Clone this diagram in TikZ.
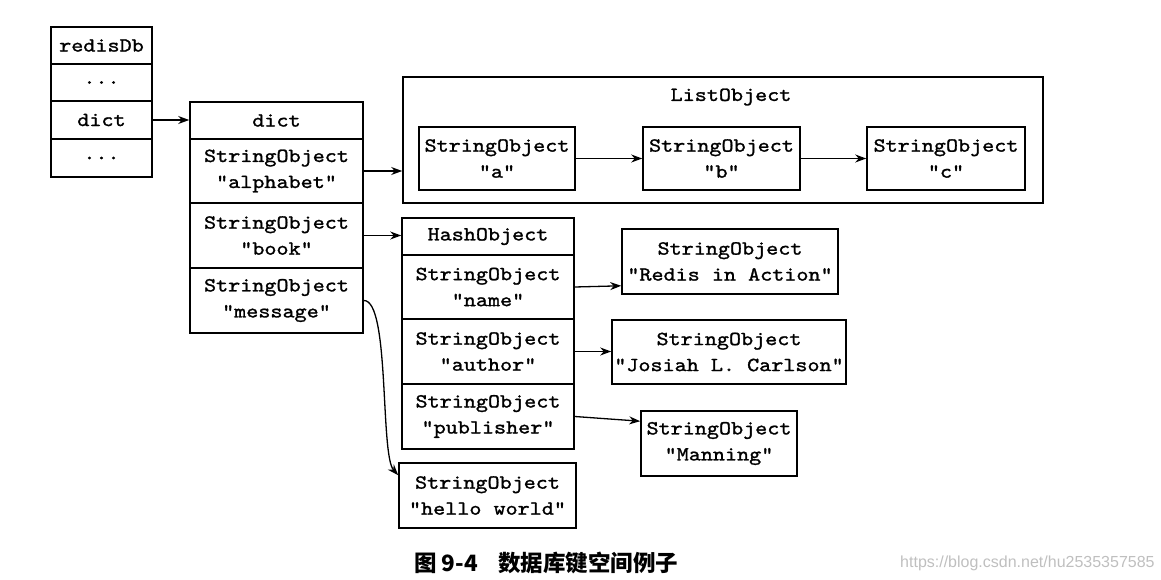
\documentclass[tikz,border=0pt]{standalone}
\usepackage{fontspec}
\newfontfamily\cjk{Noto Sans CJK SC}
\newfontfamily\wmfont{Liberation Sans}
\newfontfamily\monofnt{lmmono10-regular}[Extension=.otf,FakeBold=1.3,FakeStretch=1.15]
\usetikzlibrary{arrows.meta,calc}
\tikzset{
  cell/.style={draw, line width=1.6pt, inner sep=0pt, align=center,
    font={\monofnt\fontsize{20}{26}\selectfont}},
  frame/.style={draw, line width=1.6pt, inner sep=0pt},
  link/.style={line width=1.3pt, -{Stealth[length=11pt,width=8pt]}},
}
\begin{document}
\begin{tikzpicture}[x=1pt,y=-1pt]
\useasboundingbox (0,0) rectangle (1161,580);
% redisDb
\node[cell, minimum width=101pt, minimum height=37pt] (r0) at (101.5,45.5) {redisDb};
\node[cell, minimum width=101pt, minimum height=37pt] (r1) at (101.5,82.5) {...};
\node[cell, minimum width=101pt, minimum height=38pt] (r2) at (101.5,120) {dict};
\node[cell, minimum width=101pt, minimum height=38pt] (r3) at (101.5,158) {...};
% dict
\node[cell, minimum width=173pt, minimum height=37pt] (d0) at (276.5,120.5) {dict};
\node[cell, minimum width=173pt, minimum height=64pt] (d1) at (276.5,171) {StringObject\\"alphabet"};
\node[cell, minimum width=173pt, minimum height=65pt] (d2) at (276.5,235.5) {StringObject\\"book"};
\node[cell, minimum width=173pt, minimum height=65pt] (d3) at (276.5,300.5) {StringObject\\"message"};
% ListObject
\node[frame, minimum width=640pt, minimum height=126pt] (list) at (723,140) {};
\node[cell, draw=none] (ltitle) at (731,97) {ListObject};
\node[cell, minimum width=156pt, minimum height=63pt] (la) at (497,158.5) {StringObject\\"a"};
\node[cell, minimum width=157pt, minimum height=63pt] (lb) at (721.5,158.5) {StringObject\\"b"};
\node[cell, minimum width=158pt, minimum height=63pt] (lc) at (946,158.5) {StringObject\\"c"};
% HashObject
\node[cell, minimum width=172pt, minimum height=37pt] (h0) at (488,236.5) {HashObject};
\node[cell, minimum width=172pt, minimum height=64pt] (h1) at (488,287) {StringObject\\"name"};
\node[cell, minimum width=172pt, minimum height=65pt] (h2) at (488,351.5) {StringObject\\"author"};
\node[cell, minimum width=172pt, minimum height=65pt] (h3) at (488,416.5) {StringObject\\"publisher"};
% values
\node[cell, minimum width=216pt, minimum height=65pt] (s1) at (730,261.5) {StringObject\\"Redis in Action"};
\node[cell, minimum width=234pt, minimum height=64pt] (s2) at (729,352) {StringObject\\"Josiah L. Carlson"};
\node[cell, minimum width=156pt, minimum height=65pt] (s3) at (719,443.5) {StringObject\\"Manning"};
\node[cell, minimum width=177pt, minimum height=65pt] (s4) at (487.5,495.5) {StringObject\\"hello world"};
% connectors
\draw[link] (r2.east) -- (r2.east -| d0.west);
\draw[link] (d1.east) -- (d1.east -| list.west);
\draw[link] (la.east) -- (lb.west);
\draw[link] (lb.east) -- (lc.west);
\draw[link] (d2.east) -- (d2.east -| h0.west);
\draw[link] (h1.east) -- ([yshift=9pt]s1.south west);
\draw[link] (h2.east) -- (h2.east -| s2.west);
\draw[link] (h3.east) -- ([yshift=-11pt]s3.north west);
\draw[link] (d3.east) .. controls (390,300) and (380,455) .. ([yshift=-13pt]s4.north west);
% caption
\node[anchor=west, inner sep=0pt, font={\cjk\bfseries\fontsize{22.5}{26}\selectfont}] (cap) at (414,563) {图 9-4\hspace{0.9em}数据库键空间例子};
\node[anchor=west, inner sep=0pt, text=black!25, font={\wmfont\fontsize{16}{19}\selectfont}] (wm) at (900,563) {https://blog.csdn.net/hu2535357585};
\end{tikzpicture}
\end{document}
